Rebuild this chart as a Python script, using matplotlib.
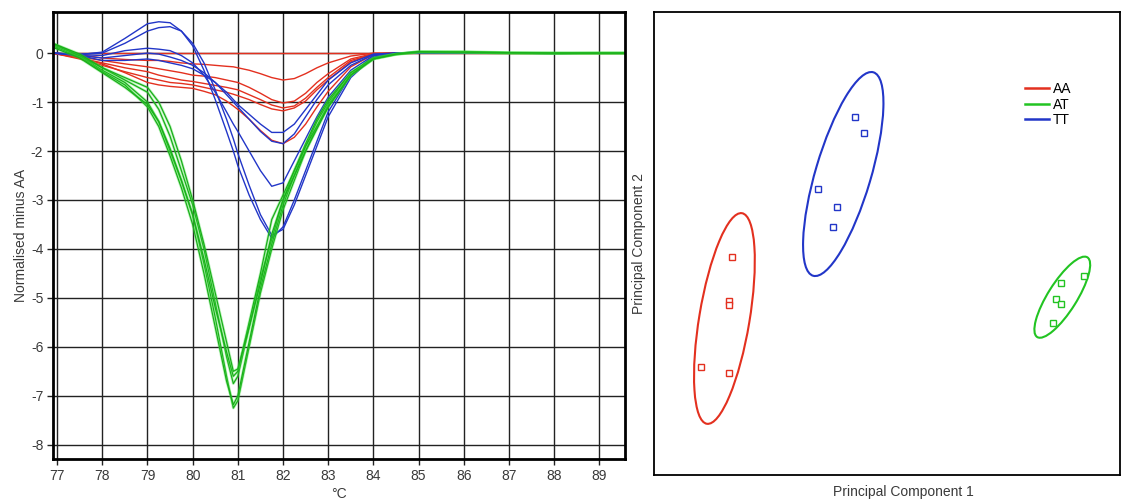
import numpy as np
import matplotlib.pyplot as plt
from matplotlib.patches import Ellipse

plt.rcParams["font.family"] = ["Liberation Sans", "DejaVu Sans"]
plt.rcParams["axes.unicode_minus"] = False

# ---- difference melt curves (normalised fluorescence minus AA) ----
temps = [76.9, 77.5, 78, 78.5, 79, 79.25, 79.5, 79.75, 80, 80.25, 80.5, 80.75,
         80.9, 81, 81.25, 81.5, 81.75, 82, 82.25, 82.5, 82.75, 83, 83.5, 84,
         84.5, 85, 86, 87, 88, 89, 89.57]

aa_curves = [
    [0.0] * 31,
    [0, -0.03, -0.1, -0.13, -0.15, -0.15, -0.17, -0.2, -0.22, -0.23, -0.25, -0.27,
     -0.28, -0.3, -0.35, -0.42, -0.5, -0.55, -0.52, -0.42, -0.3, -0.2, -0.06, 0,
     0, 0, 0, 0, 0, 0, 0],
    [0, -0.08, -0.15, -0.22, -0.28, -0.32, -0.36, -0.4, -0.45, -0.47, -0.5, -0.55,
     -0.58, -0.6, -0.7, -0.82, -0.95, -1.02, -0.98, -0.82, -0.6, -0.42, -0.12, -0.01,
     0, 0, 0, 0, 0, 0, 0],
    [0, -0.1, -0.2, -0.3, -0.38, -0.45, -0.5, -0.55, -0.58, -0.62, -0.66, -0.7,
     -0.73, -0.75, -0.85, -0.95, -1.06, -1.12, -1.08, -0.92, -0.7, -0.5, -0.15, -0.02,
     0, 0, 0, 0, 0, 0, 0],
    [0, -0.12, -0.25, -0.38, -0.5, -0.55, -0.6, -0.62, -0.65, -0.7, -0.75, -0.8,
     -0.84, -0.87, -0.95, -1.05, -1.14, -1.18, -1.12, -0.98, -0.75, -0.55, -0.18, -0.02,
     0, 0, 0, 0, 0, 0, 0],
    [0, -0.1, -0.22, -0.4, -0.6, -0.65, -0.68, -0.7, -0.72, -0.78, -0.85, -0.98,
     -1.08, -1.15, -1.35, -1.58, -1.78, -1.85, -1.72, -1.45, -1.1, -0.78, -0.28, -0.03,
     0, 0, 0, 0, 0, 0, 0],
]

tt_curves = [
    [0.0, -0.03, 0.02, 0.3, 0.6, 0.64, 0.62, 0.45, 0.15, -0.35, -0.95, -1.6,
     -2.0, -2.3, -2.9, -3.4, -3.78, -3.55, -3.0, -2.4, -1.8, -1.2, -0.45, -0.05,
     0.0, 0.02, 0.0, 0.0, -0.01, 0.0, 0.0],
    [0.0, -0.02, 0.0, 0.2, 0.45, 0.52, 0.54, 0.45, 0.2, -0.2, -0.75, -1.35,
     -1.75, -2.05, -2.7, -3.3, -3.72, -3.6, -3.1, -2.5, -1.9, -1.3, -0.5, -0.08,
     0.0, 0.02, 0.01, 0.0, 0.0, 0.0, 0.0],
    [0.0, -0.03, -0.05, 0.05, 0.1, 0.08, 0.05, -0.05, -0.2, -0.45, -0.8, -1.2,
     -1.45, -1.6, -2.0, -2.4, -2.72, -2.65, -2.2, -1.75, -1.3, -0.9, -0.35, -0.05,
     0.0, 0.01, 0.0, 0.0, 0.0, 0.0, 0.0],
    [0.0, -0.05, -0.1, -0.05, 0.0, -0.02, -0.08, -0.15, -0.25, -0.4, -0.6, -0.85,
     -1.0, -1.1, -1.35, -1.6, -1.8, -1.85, -1.65, -1.3, -0.95, -0.65, -0.25, -0.03,
     0.0, 0.0, 0.0, 0.0, 0.0, 0.0, 0.0],
    [0.0, -0.05, -0.15, -0.15, -0.12, -0.15, -0.2, -0.25, -0.32, -0.45, -0.6, -0.8,
     -0.95, -1.05, -1.25, -1.45, -1.62, -1.62, -1.45, -1.15, -0.85, -0.55, -0.2, -0.02,
     0.0, 0.0, 0.0, 0.0, 0.0, 0.0, 0.0],
]

at_curves = [
    [0.2, -0.05, -0.35, -0.6, -1.0, -1.4, -2.0, -2.6, -3.3, -4.3, -5.4, -6.6,
     -7.25, -7.1, -6.0, -4.9, -4.0, -3.2, -2.6, -2.0, -1.5, -1.05, -0.45, -0.12,
     -0.02, 0.03, 0.02, 0.0, -0.01, 0.0, 0.0],
    [0.15, -0.08, -0.38, -0.65, -1.1, -1.5, -2.1, -2.75, -3.5, -4.5, -5.6, -6.7,
     -7.18, -7.0, -5.9, -4.8, -3.9, -3.1, -2.5, -1.9, -1.4, -1.0, -0.4, -0.1,
     -0.02, 0.02, 0.03, 0.01, 0.0, 0.0, 0.0],
    [0.18, -0.05, -0.3, -0.55, -0.8, -1.15, -1.7, -2.4, -3.1, -4.0, -5.1, -6.2,
     -6.75, -6.6, -5.6, -4.6, -3.8, -3.0, -2.4, -1.85, -1.35, -0.95, -0.4, -0.1,
     -0.02, 0.02, 0.02, 0.0, 0.0, 0.0, 0.0],
    [0.12, -0.1, -0.4, -0.7, -1.05, -1.4, -1.95, -2.6, -3.3, -4.2, -5.2, -6.1,
     -6.6, -6.5, -5.5, -4.5, -3.4, -2.9, -2.4, -1.9, -1.5, -1.1, -0.45, -0.12,
     -0.03, 0.02, 0.01, 0.0, 0.0, 0.0, 0.0],
    [0.2, -0.02, -0.3, -0.5, -0.7, -1.0, -1.5, -2.2, -3.0, -3.9, -4.9, -5.9,
     -6.5, -6.45, -5.6, -4.7, -3.7, -3.0, -2.5, -2.0, -1.55, -1.1, -0.45, -0.12,
     -0.02, 0.03, 0.02, 0.01, 0.0, 0.0, 0.0],
]

# ---- principal component scores ----
aa_pc1 = [-3.33, -3.39, -3.39, -3.99, -3.39]
aa_pc2 = [-0.29, -1.24, -1.33, -2.67, -2.80]
at_pc1 = [4.23, 3.73, 3.63, 3.73, 3.56]
at_pc2 = [-0.70, -0.85, -1.20, -1.31, -1.72]
tt_pc1 = [-0.69, -0.49, -1.48, -1.07, -1.16]
tt_pc2 = [2.73, 2.39, 1.18, 0.79, 0.36]

# cluster ellipses: centre, major axis, minor axis, angle (deg)
ell_centres = [(-3.49, -1.62), (3.76, -1.16), (-0.94, 1.50)]
ell_major = [4.61, 2.03, 4.58]
ell_minor = [1.08, 0.62, 1.19]
ell_angle = [80.6, 58.0, 73.6]

groups = ["AA", "AT", "TT"]
colors = {"AA": "#e3301f", "AT": "#22c422", "TT": "#2236c8"}
text_col = "#3a3a3a"

fig = plt.figure(figsize=(11.24, 5.03), dpi=100)

# left panel: difference plot
ax = fig.add_axes([0.0472, 0.0875, 0.5089, 0.8887])
for y in aa_curves:
    ax.plot(temps, y, color=colors["AA"], lw=1.0)
for y in tt_curves:
    ax.plot(temps, y, color=colors["TT"], lw=1.0)
for y in at_curves:
    ax.plot(temps, y, color="#3ee03e", lw=2.0, alpha=0.35)
    ax.plot(temps, y, color="#1aae1a", lw=0.9)

ax.set_xlim(76.91, 89.57)
ax.set_ylim(-8.29, 0.84)
ax.set_xticks(range(77, 90))
ax.set_yticks(range(-8, 1))
ax.grid(True, color="#222222", lw=1.0)
ax.set_axisbelow(True)
for s in ax.spines.values():
    s.set_linewidth(2.0)
    s.set_color("black")
ax.tick_params(length=4, width=1.0, color="#222222", labelsize=10,
               labelcolor=text_col, pad=3)
ax.set_xlabel("°C", fontsize=10, color=text_col, labelpad=3)
ax.set_ylabel("Normalised minus AA", fontsize=10, color=text_col, labelpad=2)

# right panel: PCA scores
ax2 = fig.add_axes([0.5819, 0.0557, 0.4146, 0.9205])
scores = {"AA": (aa_pc1, aa_pc2), "AT": (at_pc1, at_pc2), "TT": (tt_pc1, tt_pc2)}
for i, g in enumerate(groups):
    c = colors[g]
    ax2.add_patch(Ellipse(ell_centres[i], ell_major[i], ell_minor[i],
                          angle=ell_angle[i], fill=False, edgecolor=c, lw=1.5))
    pc1, pc2 = scores[g]
    ax2.plot(pc1, pc2, ls="none", marker="s", ms=4, mfc="white", mec=c, mew=1.0)
    ax2.plot([], [], color=c, lw=1.8, label=g)

ax2.set_xlim(-5, 5)
ax2.set_ylim(-5, 5)
ax2.set_xticks([])
ax2.set_yticks([])
for s in ax2.spines.values():
    s.set_linewidth(1.3)
ax2.set_ylabel("Principal Component 2", fontsize=10, color=text_col, labelpad=6)
ax2.text(0.535, -0.022, "Principal Component 1", transform=ax2.transAxes,
         ha="center", va="top", fontsize=10, color=text_col)
ax2.legend(loc="upper left", bbox_to_anchor=(0.77, 0.875), frameon=False,
           fontsize=10, handlelength=1.7, handletextpad=0.3, labelspacing=0.1)

fig.savefig("out.png", dpi=100)
